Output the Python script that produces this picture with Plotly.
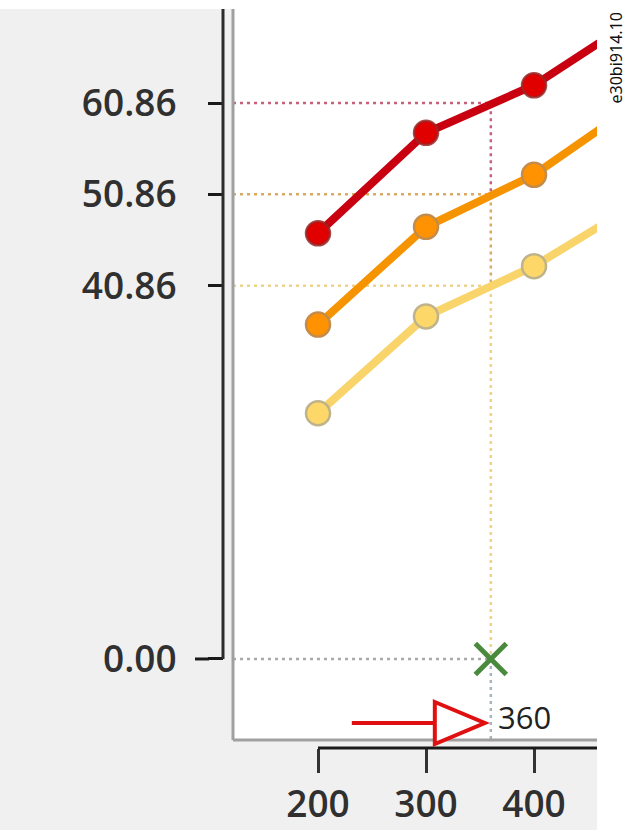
import plotly.graph_objects as go

# ---- data ----
x_vals = [200, 300, 400, 500]
red_vals = [46.6, 57.6, 62.8, 70.5]
orange_vals = [36.6, 47.3, 53.0, 61.2]
yellow_vals = [26.9, 37.5, 43.0, 50.2]

marker_x = 360
ref_levels = [60.86, 50.86, 40.86]
zero_level = 0.00
y_tick_vals = [0.00, 40.86, 50.86, 60.86]
y_tick_text = ["0.00", "40.86", "50.86", "60.86"]
x_tick_vals = [200, 300, 400]
x_tick_text = ["200", "300", "400"]
marker_label = "360"
doc_id = "e30bi914.10"

X_RANGE = [121.3, 458.3]
Y_RANGE = [-8.87, 71.15]

# ---- styles ----
RED_LINE, RED_FILL, RED_EDGE = "#c8000f", "#e00000", "rgba(150,40,40,0.85)"
OR_LINE, OR_FILL, OR_EDGE = "#f59300", "#ff9200", "#c48c4c"
YE_LINE, YE_FILL, YE_EDGE = "#f9d46b", "#fdd768", "#bfb38c"
guide_colors = ["#c8607a", "#d8aa62", "#eed38a"]
ZERO_GUIDE = "#a9a9a9"
DROP_GUIDE = "#a6b4bc"
TICK_FONT = dict(family="Open Sans", size=37, color="#303030", weight=600)
DOT = "3px,4px"

fig = go.Figure()

# dotted guide lines (drawn first, beneath the series)
next_levels = ref_levels[1:] + [zero_level]
for lvl, nxt, col in zip(ref_levels, next_levels, guide_colors):
    fig.add_trace(go.Scatter(
        x=[X_RANGE[0], marker_x, marker_x], y=[lvl, lvl, nxt],
        mode="lines", line=dict(color=col, width=2.5, dash=DOT),
        hoverinfo="skip"))
fig.add_trace(go.Scatter(
    x=[X_RANGE[0], marker_x], y=[zero_level, zero_level],
    mode="lines", line=dict(color=ZERO_GUIDE, width=2.5, dash=DOT),
    hoverinfo="skip"))
fig.add_trace(go.Scatter(
    x=[marker_x, marker_x], y=[zero_level, Y_RANGE[0]],
    mode="lines", line=dict(color=DROP_GUIDE, width=2.5, dash=DOT),
    hoverinfo="skip"))

# series
for vals, lc, fc, ec in [(yellow_vals, YE_LINE, YE_FILL, YE_EDGE),
                         (orange_vals, OR_LINE, OR_FILL, OR_EDGE),
                         (red_vals, RED_LINE, RED_FILL, RED_EDGE)]:
    fig.add_trace(go.Scatter(
        x=x_vals, y=vals, mode="lines+markers",
        line=dict(color=lc, width=8),
        marker=dict(size=24, color=fc, line=dict(color=ec, width=2.5))))

# green cross at the marker position
fig.add_trace(go.Scatter(
    x=[marker_x], y=[zero_level], mode="markers",
    marker=dict(symbol="x-thin", size=31, line=dict(color="#4a8a3c", width=5))))

shapes = [
    # white strips outside the gray panel
    dict(type="rect", xref="paper", yref="paper", x0=1, x1=1.3, y0=-0.3, y1=1.2,
         fillcolor="white", line=dict(width=0), layer="below"),
    dict(type="rect", xref="paper", yref="paper", x0=-1, x1=1.3, y0=1, y1=1.1,
         fillcolor="white", line=dict(width=0), layer="below"),
    # gray plot border (left and bottom)
    dict(type="line", xref="x domain", yref="y domain", x0=0, x1=0, y0=0, y1=1,
         line=dict(color="#a0a0a0", width=3), layer="above"),
    dict(type="line", xref="x domain", yref="y domain", x0=0, x1=1, y0=0, y1=0,
         line=dict(color="#a0a0a0", width=3), layer="above"),
    # dark y axis line (from 0 upward)
    dict(type="line", xref="paper", xsizemode="pixel", xanchor=0, x0=-10, x1=-10,
         yref="y", y0=zero_level, y1=Y_RANGE[1],
         line=dict(color="#2a2a2a", width=3), layer="above"),
    # longer tick at 0.00
    dict(type="line", xref="paper", xsizemode="pixel", xanchor=0, x0=-38, x1=-24,
         yref="y", y0=zero_level, y1=zero_level,
         line=dict(color="#1a1a1a", width=3), layer="above"),
    # dark x axis line (from 200 rightward)
    dict(type="line", xref="x", x0=x_tick_vals[0], x1=X_RANGE[1],
         yref="paper", y0=0, y1=0,
         line=dict(color="#1a1a1a", width=3), layer="above"),
    # red arrow pointing at the marker position
    dict(type="path", xref="x", xsizemode="pixel", xanchor=marker_x,
         yref="paper", ysizemode="pixel", yanchor=0.0338,
         path="M-139,0 L-56,0", line=dict(color="#e01010", width=4), layer="above"),
    dict(type="path", xref="x", xsizemode="pixel", xanchor=marker_x,
         yref="paper", ysizemode="pixel", yanchor=0.0338,
         path="M-56,21 L-6,0 L-56,-21 Z", fillcolor="white",
         line=dict(color="#e01010", width=4), layer="above"),
]

annotations = [
    dict(x=marker_x, xref="x", y=0.042, yref="paper", text=marker_label,
         showarrow=False, xanchor="left", yanchor="middle", xshift=5,
         font=dict(family="Open Sans", size=31, color="#222222")),
    dict(x=1.052, xref="paper", y=0.9986, yref="paper", text=doc_id,
         showarrow=False, textangle=-90, xanchor="center", yanchor="top",
         font=dict(family="Noto Sans", size=16, color="#111111")),
]

fig.update_layout(
    width=629, height=830,
    margin=dict(l=233, r=32, t=9, b=82, pad=0, autoexpand=False),
    paper_bgcolor="#f0f0f0", plot_bgcolor="white",
    showlegend=False,
    shapes=shapes, annotations=annotations,
    xaxis=dict(range=X_RANGE, domain=[0, 1], anchor="free", position=0,
               automargin=False,
               tickvals=x_tick_vals, ticktext=x_tick_text,
               ticks="outside", ticklen=24, tickwidth=3, tickcolor="#333333",
               showline=False, showgrid=False, zeroline=False,
               tickfont=TICK_FONT, ticklabelstandoff=0),
    yaxis=dict(range=Y_RANGE, domain=[8 / 739, 1], anchor="free", position=0,
               shift=-10, automargin=False,
               tickvals=y_tick_vals, ticktext=y_tick_text,
               ticks="outside", ticklen=15, tickwidth=3, tickcolor="#1a1a1a",
               showline=False, showgrid=False, zeroline=False,
               tickfont=TICK_FONT, ticklabelstandoff=24),
)

fig.write_html("out.html",
               config={"displayModeBar": False},
               post_script="document.body.style.margin='0';document.body.style.overflow='hidden';")
